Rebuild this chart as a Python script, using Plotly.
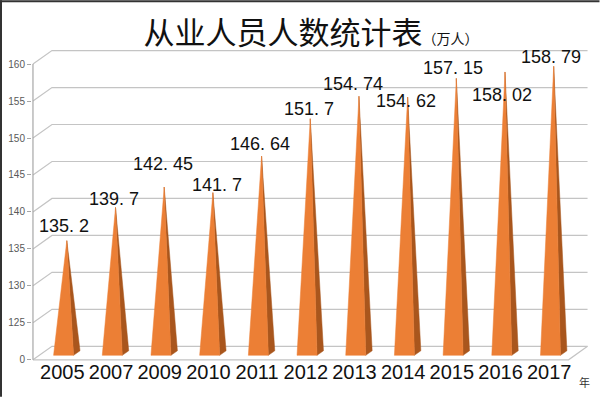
import plotly.graph_objects as go

# ---------------- data ----------------
years = ["2005", "2007", "2009", "2010", "2011", "2012", "2013", "2014", "2015", "2016", "2017"]
values = [135.2, 139.7, 142.45, 141.7, 146.64, 151.7, 154.74, 154.62, 157.15, 158.02, 158.79]
y_tick_values = [120, 125, 130, 135, 140, 145, 150, 155, 160]   # 120 = broken-axis floor
y_tick_labels = ["0", "125", "130", "135", "140", "145", "150", "155", "160"]
title_main = "从业人员人数统计表"
title_unit = "（万人）"
year_suffix = "年"

# label offsets (pixels) relative to each spike tip
label_dx = [-3, -2, -1, 4, -2, -1, -6, -2, -3, -3, -3]
label_dy = [15, 8, 23, 8, 12, 10, 12, -4, 10, -23, 9]

# ---------------- geometry ----------------
W, H = 600, 397
SX = 48.73            # px per category
SY = 7.4              # px per value unit
FLOOR = y_tick_values[0]
TOP = y_tick_values[-1]
DX = 19 / SX          # depth vector (back wall offset) in data units
DY = 13.5 / SY
F0, F1 = 0.33, 0.67   # depth extent of spike bases
HW = 10 / SX          # half width of spike base

n = len(years)
x0 = -0.52
x1 = (n - 0.5) + DX + 0.03
y0 = FLOOR - 0.3
y1 = TOP + DY + 0.35
plot_w = (x1 - x0) * SX
plot_h = (y1 - y0) * SY
ml = 33 - 0.02 * SX
mr = W - ml - plot_w
mb = H - (360 + 0.3 * SY)
mt = H - mb - plot_h

grid_color = "#C4C4C4"
fig = go.Figure()

# grid / walls
gx, gy = [], []
left = -0.5
right = n - 0.5
for v in y_tick_values:
    gx += [left, left + DX, right + DX, None]
    gy += [v, v + DY, v + DY, None]
# floor front edge and right diagonal
gx += [left, right, right + DX, None]
gy += [FLOOR, FLOOR, FLOOR + DY, None]
fig.add_trace(go.Scatter(x=gx, y=gy, mode="lines", line=dict(color=grid_color, width=1.2),
                         hoverinfo="skip", showlegend=False))
# front vertical axis line
fig.add_trace(go.Scatter(x=[left, left], y=[FLOOR, TOP], mode="lines",
                         line=dict(color="#A6A6A6", width=1.2), hoverinfo="skip", showlegend=False))

# spikes
fx, fy, sx_, sy_ = [], [], [], []
for i, v in enumerate(values):
    bl = (i - HW + F0 * DX, FLOOR + F0 * DY)
    br = (i + HW + F0 * DX, FLOOR + F0 * DY)
    bb = (i + HW + F1 * DX, FLOOR + F1 * DY)
    apex = (i + 0.5 * DX, v + 0.5 * DY)
    fx += [bl[0], br[0], apex[0], bl[0], None]
    fy += [bl[1], br[1], apex[1], bl[1], None]
    sx_ += [br[0], bb[0], apex[0], br[0], None]
    sy_ += [br[1], bb[1], apex[1], br[1], None]

fig.add_trace(go.Scatter(x=sx_, y=sy_, mode="lines", fill="toself", fillcolor="#A9561D",
                         line=dict(color="#A9561D", width=0.5), hoverinfo="skip", showlegend=False))
fig.add_trace(go.Scatter(x=fx, y=fy, mode="lines", fill="toself", fillcolor="#EC7F35",
                         line=dict(color="#EC7F35", width=0.5), hoverinfo="skip", showlegend=False))

# value labels
for i, v in enumerate(values):
    fig.add_annotation(x=i + 0.5 * DX, y=v + 0.5 * DY, text=str(v).replace(".", ". "),
                       showarrow=False, xanchor="center", yanchor="middle",
                       xshift=label_dx[i], yshift=label_dy[i],
                       font=dict(family="Liberation Sans, Arial, sans-serif", size=18, color="#111111"))

# "年" suffix at the end of the category axis
fig.add_annotation(xref="paper", yref="paper", x=(585 - ml) / plot_w, y=-(382 - (H - mb)) / plot_h,
                   text=year_suffix, showarrow=False, xanchor="center", yanchor="middle",
                   font=dict(family="Noto Sans CJK SC", size=11, color="#333333"))

fig.update_layout(
    width=W, height=H,
    margin=dict(l=ml, r=mr, t=mt, b=mb, pad=0),
    paper_bgcolor="white", plot_bgcolor="white",
    title=dict(
        text=title_main + "<span style='font-size:14px'>" + title_unit + "</span>",
        x=311 / W, xanchor="center", xref="container",
        y=1 - 33 / H, yanchor="middle", yref="container",
        font=dict(family="Noto Sans CJK SC", size=31, color="#111111"),
    ),
    xaxis=dict(range=[x0, x1], tickvals=list(range(n)), ticktext=years,
               showgrid=False, zeroline=False, showline=False, ticks="",
               ticklabelshift=5, ticklabelstandoff=-4,
               tickfont=dict(family="Liberation Sans, Arial, sans-serif", size=20, color="#111111"),
               fixedrange=True, automargin=False),
    yaxis=dict(range=[y0, y1], tickvals=y_tick_values, ticktext=y_tick_labels,
               showgrid=False, zeroline=False, showline=False,
               ticks="outside", ticklen=4, tickcolor="#A6A6A6", tickwidth=1,
               tickfont=dict(family="Liberation Sans, Arial, sans-serif", size=10, color="#595959"),
               fixedrange=True, automargin=False),
    shapes=[
        dict(type="line", xref="paper", yref="paper",
             x0=(1 - ml) / plot_w, x1=(1 - ml) / plot_w, y0=-mb / plot_h, y1=(H - mb) / plot_h,
             line=dict(color="#333333", width=2)),
        dict(type="line", xref="paper", yref="paper",
             x0=-ml / plot_w, x1=(W - ml) / plot_w, y0=(H - mb - 1) / plot_h, y1=(H - mb - 1) / plot_h,
             line=dict(color="#333333", width=2)),
    ],
)

fig.write_html("out.html", config={"displayModeBar": False},
               post_script="document.body.style.margin='0';document.body.style.overflow='hidden';")
